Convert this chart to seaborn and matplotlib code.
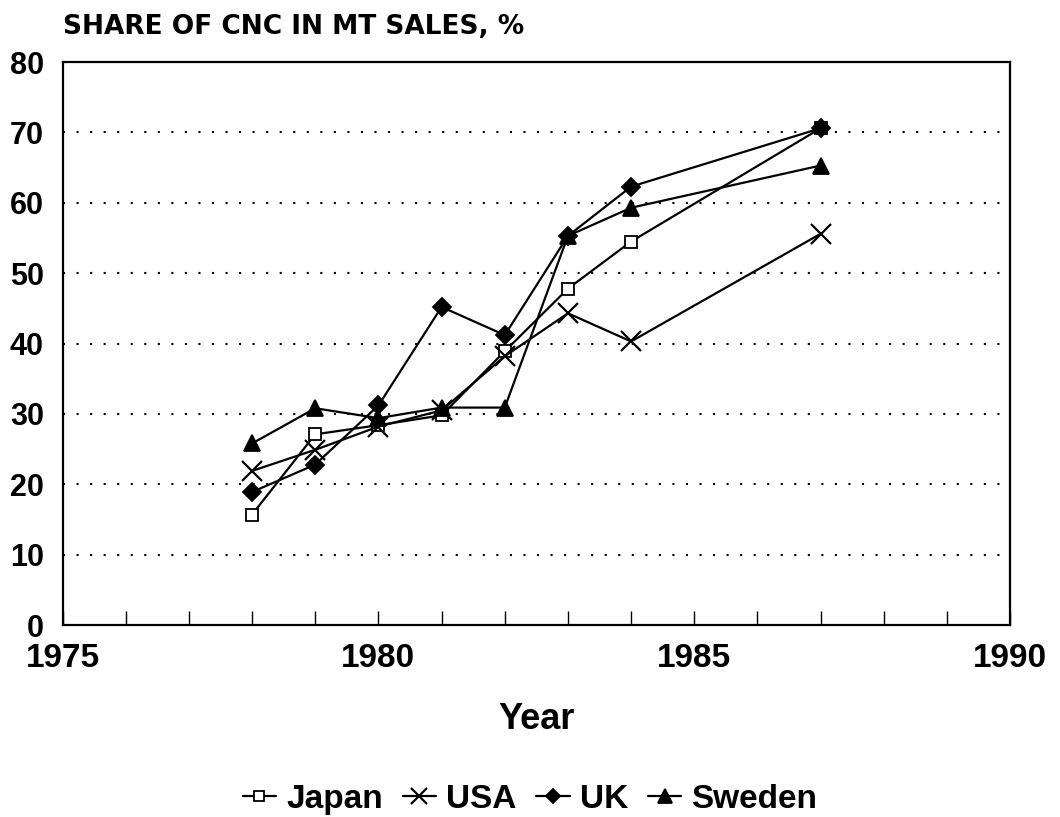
import matplotlib
matplotlib.use('Agg')

import pandas as pd
import matplotlib.pyplot as plt
import seaborn as sns
from matplotlib.ticker import MultipleLocator

# values
years = [1978, 1979, 1980, 1981, 1982, 1983, 1984, 1987]
japan = [15.7, 27.1, 28.4, 29.8, 38.9, 47.8, 54.5, 70.6]
usa = [21.9, 24.9, 28.2, 30.5, 38.2, 44.3, 40.3, 55.6]
uk = [18.9, 22.8, 31.2, 45.2, 41.2, 55.3, 62.3, 70.6]
sweden = [25.8, 30.8, 29.4, 30.9, 30.9, 55.3, 59.3, 65.3]
countries = ['Japan', 'USA', 'UK', 'Sweden']

df = pd.DataFrame({
    'Year': years * 4,
    'Share': japan + usa + uk + sweden,
    'Country': [c for c in countries for _ in years],
})

sns.set_style('white')
plt.rcParams['font.family'] = ['Liberation Sans', 'DejaVu Sans']
plt.rcParams['font.weight'] = 'bold'
plt.rcParams['text.color'] = 'black'
plt.rcParams['axes.labelcolor'] = 'black'
plt.rcParams['xtick.color'] = 'black'
plt.rcParams['ytick.color'] = 'black'

fig = plt.figure(figsize=(10.6, 8.17), dpi=100)
ax = fig.add_axes([0.059, 0.235, 0.894, 0.689])

styles = {
    'Japan': dict(marker='s', markersize=9, markerfacecolor='white'),
    'USA': dict(marker='x', markersize=15, markeredgewidth=1.6),
    'UK': dict(marker='D', markersize=9, markerfacecolor='black'),
    'Sweden': dict(marker='^', markersize=12, markerfacecolor='black'),
}
for c in countries:
    kw = dict(markeredgecolor='black', markeredgewidth=1.3)
    kw.update(styles[c])
    sns.lineplot(data=df[df['Country'] == c], x='Year', y='Share', ax=ax,
                 color='black', linewidth=1.6, label=c, **kw)

ax.set_xlim(1975, 1990)
ax.set_ylim(0, 80)
ax.xaxis.set_major_locator(MultipleLocator(5))
ax.xaxis.set_minor_locator(MultipleLocator(1))
ax.yaxis.set_major_locator(MultipleLocator(10))
for y in range(10, 80, 10):
    ax.axhline(y, color='black', linestyle=(0, (1, 5.5)), linewidth=1.5, zorder=0)

ax.tick_params(axis='x', which='both', direction='in', length=10, width=1,
               bottom=True, labelsize=24, pad=13)
ax.tick_params(axis='y', left=False, labelsize=22, pad=10)
for s in ax.spines.values():
    s.set_linewidth(1.6)
    s.set_color('black')

ax.set_xlabel('Year', fontsize=26, fontweight='bold', labelpad=20)
ax.set_ylabel('')
fig.text(0.059, 0.958, 'SHARE OF CNC IN MT SALES, %', fontsize=19,
         fontweight='bold', family=['DejaVu Sans'], va='baseline')

handles, labels = ax.get_legend_handles_labels()
ax.legend_.remove()
fig.legend(handles, labels, loc='center', bbox_to_anchor=(0.5, 0.022), ncol=4,
           frameon=False, fontsize=24, handlelength=1.0, handletextpad=0.3,
           columnspacing=0.6, markerscale=0.8)

fig.savefig('out.png', dpi=100)
